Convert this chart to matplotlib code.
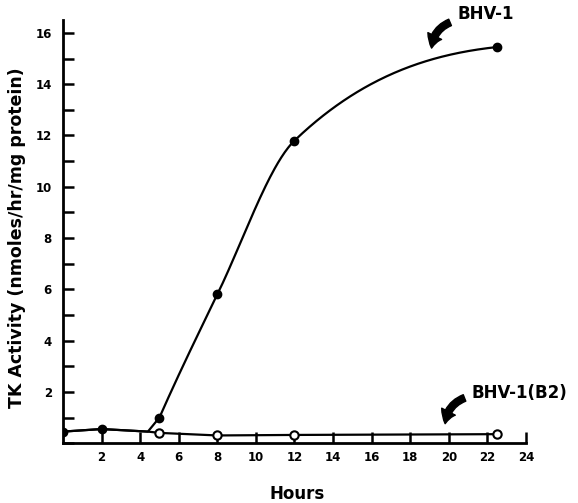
import numpy as np
import matplotlib
matplotlib.use("Agg")
import matplotlib.pyplot as plt
from matplotlib.ticker import MultipleLocator

# values
hours = [0, 2, 5, 8, 12, 22.5]
bhv1 = [0.45, 0.55, 1.0, 5.8, 11.8, 15.45]
bhv1_b2 = [0.45, 0.55, 0.4, 0.3, 0.32, 0.35]
# point where the two curves part
split_hour = 4.4
split_value = 0.45

x_ticks = [2, 4, 6, 8, 10, 12, 14, 16, 18, 20, 22, 24]
y_ticks = [2, 4, 6, 8, 10, 12, 14, 16]


def smooth(x, y, xs):
    # cubic hermite through the measured points, slopes = geometric mean of secants
    x = np.asarray(x, float)
    y = np.asarray(y, float)
    h = np.diff(x)
    d = np.diff(y) / h
    m = np.zeros_like(y)
    m[1:-1] = np.sqrt(np.clip(d[:-1] * d[1:], 0, None)) * np.sign(d[1:])
    m[0] = d[0] ** 2 / d[1]
    m[-1] = d[-1] ** 2 / d[-2]
    out = np.empty_like(xs)
    for i, xv in enumerate(xs):
        k = min(np.searchsorted(x, xv, side="right") - 1, len(x) - 2)
        t = (xv - x[k]) / h[k]
        out[i] = ((2 * t**3 - 3 * t**2 + 1) * y[k] + (t**3 - 2 * t**2 + t) * h[k] * m[k]
                  + (-2 * t**3 + 3 * t**2) * y[k + 1] + (t**3 - t**2) * h[k] * m[k + 1])
    return out


fig = plt.figure(figsize=(5.78, 5.03), dpi=100)
ax = fig.add_axes([0.109, 0.119, 0.801, 0.841])

# shared early part, then each curve on its own
b2_x = hours[:2] + [split_hour] + hours[2:]
b2_y = bhv1_b2[:2] + [split_value] + bhv1_b2[2:]
ax.plot(b2_x, b2_y, color="black", lw=1.6, zorder=2)

early_x = hours[:2] + [split_hour, hours[2]]
early_y = bhv1[:2] + [split_value, bhv1[2]]
ax.plot(early_x, early_y, color="black", lw=1.6, zorder=2)
xs = np.linspace(hours[2], hours[-1], 300)
ax.plot(xs, smooth(hours[2:], bhv1[2:], xs), color="black", lw=1.6, zorder=2)

ax.plot(hours[2:], bhv1_b2[2:], "o", ms=6, mfc="white", mec="black", mew=1.5, zorder=3)
ax.plot(hours, bhv1, "o", ms=6, mfc="black", mec="black", zorder=4)

ax.set_xlim(0, 24)
ax.set_ylim(0, 16.5)
ax.spines["top"].set_visible(False)
ax.spines["right"].set_visible(False)
ax.spines["left"].set_linewidth(2)
ax.spines["bottom"].set_linewidth(2)

ax.set_xticks(x_ticks)
ax.set_yticks(y_ticks)
ax.yaxis.set_minor_locator(MultipleLocator(1))
ax.tick_params(axis="both", which="both", direction="in", width=1.8, length=8)
ax.tick_params(axis="x", pad=6, labelsize=8.5)
ax.tick_params(axis="y", pad=8, labelsize=8.5)
for lab in ax.get_xticklabels() + ax.get_yticklabels():
    lab.set_fontweight("bold")

fig.text(0.514, 0.018, "Hours", fontsize=12, fontweight="bold", ha="center", va="center")
fig.text(0.03, 0.527, "TK Activity (nmoles/hr/mg protein)", fontsize=12.5, fontweight="bold",
         rotation=90, ha="center", va="center")

arrow = dict(arrowstyle="simple,head_width=1.1,head_length=0.9,tail_width=0.5",
             connectionstyle="arc3,rad=0.35", fc="black", ec="black")
ax.annotate("", xy=(19.1, 15.3), xytext=(20.2, 16.45), arrowprops=arrow, annotation_clip=False)
ax.text(20.45, 16.75, "BHV-1", fontsize=12, fontweight="bold", va="center", ha="left", clip_on=False)
ax.annotate("", xy=(19.8, 0.65), xytext=(20.95, 1.8), arrowprops=arrow, annotation_clip=False)
ax.text(21.2, 1.95, "BHV-1(B2)", fontsize=12, fontweight="bold", va="center", ha="left", clip_on=False)

fig.savefig("out.png", dpi=100)
